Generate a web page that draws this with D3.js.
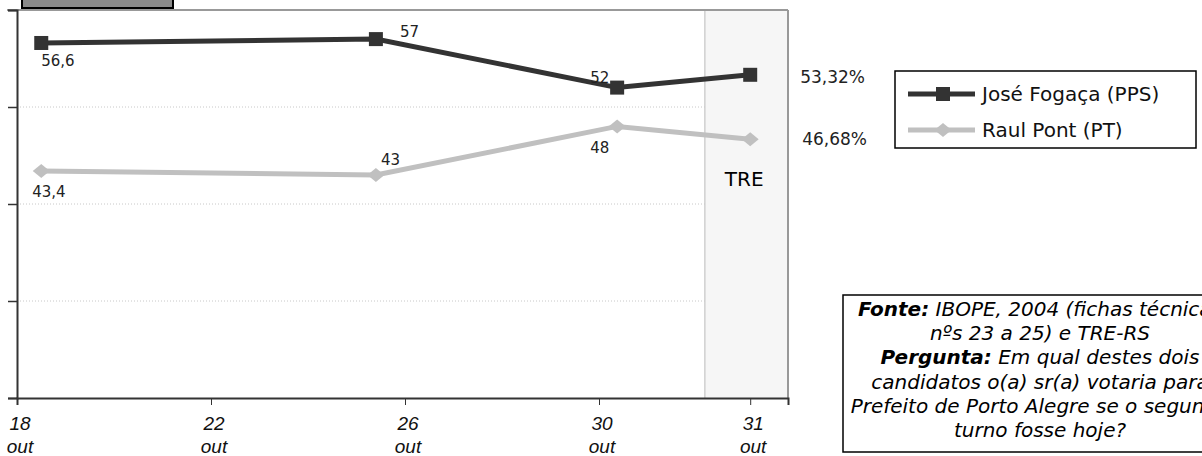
<!DOCTYPE html>
<html>
<head>
<meta charset="utf-8">
<script src="https://cdn.jsdelivr.net/npm/d3@7"></script>
<style>
html,body{margin:0;padding:0;background:#fff;}
svg{display:block;}
</style>
</head>
<body>
<svg id="chart" width="1202" height="456"></svg>
<script>
// ---- data ----
const seriesNames = ["José Fogaça (PPS)", "Raul Pont (PT)"];
const pollDays = [18.5, 25.4, 30.12, 31];          // x position (day of October)
const fogacaValues = [56.6, 57, 52, 53.32];
const pontValues = [43.4, 43, 48, 46.68];
const fogacaLabels = ["56,6", "57", "52", "53,32%"];
const pontLabels = ["43,4", "43", "48", "46,68%"];
const xTickDays = [18, 22, 26, 30, 31];
const xTickLabels = [["18","out"],["22","out"],["26","out"],["30","out"],["31","out"]];
const yTicks = [20, 30, 40, 50, 60];
const yGrid = [30, 40, 50];
const treLabel = "TRE";
const sourceLines = [
  [{b:"Fonte:"},{t:" IBOPE, 2004 (fichas técnicas"}],
  [{t:"nºs 23 a 25) e TRE-RS"}],
  [{b:"Pergunta:"},{t:" Em qual destes dois"}],
  [{t:"candidatos o(a) sr(a) votaria para"}],
  [{t:"Prefeito de Porto Alegre se o segundo"}],
  [{t:"turno fosse hoje?"}]
];

(function () {
// ---- layout ----
const svg = d3.select("#chart");
const pL = 17, pR = 788, pT = 10, pB = 398;
const x = d3.scaleLinear().domain([18, 30, 31.25]).range([pL, 599, pR]);
const y = d3.scaleLinear().domain([20, 60]).range([pB, pT]);

// TRE band
svg.append("rect").attr("x", x(30.7)).attr("y", pT).attr("width", pR - x(30.7)).attr("height", pB - pT)
  .attr("fill", "#f6f6f6");
svg.append("line").attr("x1", x(30.7)).attr("x2", x(30.7)).attr("y1", pT).attr("y2", pB)
  .attr("stroke", "#d0d0d0").attr("stroke-width", 1.5);

// grid
svg.append("g").selectAll("line").data(yGrid).join("line")
  .attr("x1", pL).attr("x2", x(30.7)).attr("y1", d => y(d)).attr("y2", d => y(d))
  .attr("stroke", "#c8c8c8").attr("stroke-width", 1).attr("stroke-dasharray", "1,2");

// frame top/right
svg.append("line").attr("x1", pL - 10).attr("x2", pR).attr("y1", pT).attr("y2", pT)
  .attr("stroke", "#999").attr("stroke-width", 2);
svg.append("line").attr("x1", pR).attr("x2", pR).attr("y1", pT).attr("y2", pB)
  .attr("stroke", "#999").attr("stroke-width", 2);

// axes
const yAxis = d3.axisLeft(y).tickValues(yTicks).tickSize(9).tickFormat("");
const gy = svg.append("g").attr("transform", `translate(${pL},0)`).call(yAxis);
gy.select(".domain").attr("stroke", "#333").attr("stroke-width", 2);
gy.selectAll(".tick line").attr("stroke", "#333").attr("stroke-width", 1.5);

const xAxis = d3.axisBottom(x).tickValues(xTickDays).tickSize(7).tickFormat("");
const gx = svg.append("g").attr("transform", `translate(0,${pB})`).call(xAxis);
gx.select(".domain").attr("stroke", "#333").attr("stroke-width", 2);
gx.selectAll(".tick line").attr("stroke", "#333").attr("stroke-width", 1);

// x tick labels
const xl = svg.append("g").selectAll("text").data(xTickDays).join("text")
  .attr("x", d => x(d) + 3).attr("y", pB + 32)
  .attr("text-anchor", "middle")
  .style("font-family", "'Liberation Sans Narrow','Liberation Sans',Arial,sans-serif")
  .style("font-style", "italic").style("font-size", "19px").attr("fill", "#111");
xl.append("tspan").attr("x", d => x(d) + 3).text((d, i) => xTickLabels[i][0]);
xl.append("tspan").attr("x", d => x(d) + 3).attr("dy", 23).text((d, i) => xTickLabels[i][1]);

// top-left grey box
svg.append("rect").attr("x", 22).attr("y", -4).attr("width", 151).attr("height", 12)
  .attr("fill", "#8a8a8a").attr("stroke", "#000").attr("stroke-width", 2);

// lines
const line = d3.line().x(d => x(d[0])).y(d => y(d[1]));
const fData = pollDays.map((d, i) => [d, fogacaValues[i]]);
const pData = pollDays.map((d, i) => [d, pontValues[i]]);
svg.append("path").attr("d", line(pData)).attr("fill", "none").attr("stroke", "#c0c0c0").attr("stroke-width", 5);
svg.append("path").attr("d", line(fData)).attr("fill", "none").attr("stroke", "#333").attr("stroke-width", 5);

const diamond = (cx, cy, w, h) => `M${cx},${cy - h}L${cx + w},${cy}L${cx},${cy + h}L${cx - w},${cy}Z`;
svg.append("g").selectAll("path").data(pData).join("path")
  .attr("d", d => diamond(x(d[0]), y(d[1]), 8.5, 7)).attr("fill", "#c0c0c0");
svg.append("g").selectAll("rect").data(fData).join("rect")
  .attr("x", d => x(d[0]) - 7).attr("y", d => y(d[1]) - 7).attr("width", 14).attr("height", 14).attr("fill", "#333");

// data labels
const labelFont = "'DejaVu Sans',Verdana,sans-serif";
const fOff = [[0, 23], [24, -2], [-27, -5], [50, 8]];
const pOff = [[-9, 26], [5, -10], [-27, 27], [52, 6]];
svg.append("g").selectAll("text").data(fData).join("text")
  .attr("x", (d, i) => x(d[0]) + fOff[i][0]).attr("y", (d, i) => y(d[1]) + fOff[i][1])
  .style("font-family", labelFont).style("font-size", (d, i) => i === 3 ? "17px" : "15px")
  .attr("fill", "#222").text((d, i) => fogacaLabels[i]);
svg.append("g").selectAll("text").data(pData).join("text")
  .attr("x", (d, i) => x(d[0]) + pOff[i][0]).attr("y", (d, i) => y(d[1]) + pOff[i][1])
  .style("font-family", labelFont).style("font-size", (d, i) => i === 3 ? "17px" : "15px")
  .attr("fill", "#222").text((d, i) => pontLabels[i]);

svg.append("text").attr("x", x(31) - 6).attr("y", 186).attr("text-anchor", "middle")
  .style("font-family", labelFont).style("font-size", "20px").attr("fill", "#000").text(treLabel);

// legend
const lg = svg.append("g");
lg.append("rect").attr("x", 895).attr("y", 71).attr("width", 301).attr("height", 77)
  .attr("fill", "#fff").attr("stroke", "#000").attr("stroke-width", 1.5);
const legY = [94, 130];
const legColors = ["#333", "#c0c0c0"];
seriesNames.forEach((n, i) => {
  lg.append("line").attr("x1", 908).attr("x2", 975).attr("y1", legY[i]).attr("y2", legY[i])
    .attr("stroke", legColors[i]).attr("stroke-width", 5);
  if (i === 0) lg.append("rect").attr("x", 936).attr("y", legY[i] - 7).attr("width", 14).attr("height", 14).attr("fill", "#333");
  else lg.append("path").attr("d", diamond(943, legY[i], 8.5, 7)).attr("fill", "#c0c0c0");
  lg.append("text").attr("x", 982).attr("y", legY[i] + 7).style("font-family", labelFont)
    .style("font-size", "20px").attr("fill", "#111").text(n);
});

// source box
const sg = svg.append("g");
sg.append("rect").attr("x", 843).attr("y", 295).attr("width", 400).attr("height", 157)
  .attr("fill", "#fff").attr("stroke", "#000").attr("stroke-width", 1.5);
sourceLines.forEach((ln, i) => {
  const t = sg.append("text").attr("x", 1040).attr("y", 316 + i * 24.2).attr("text-anchor", "middle")
    .style("font-family", "'DejaVu Sans',Verdana,sans-serif").style("font-style", "italic")
    .style("font-size", "20px").attr("fill", "#000");
  ln.forEach(seg => {
    if (seg.b) t.append("tspan").style("font-weight", "bold").text(seg.b);
    else t.append("tspan").text(seg.t);
  });
});
})();
</script>
</body>
</html>
